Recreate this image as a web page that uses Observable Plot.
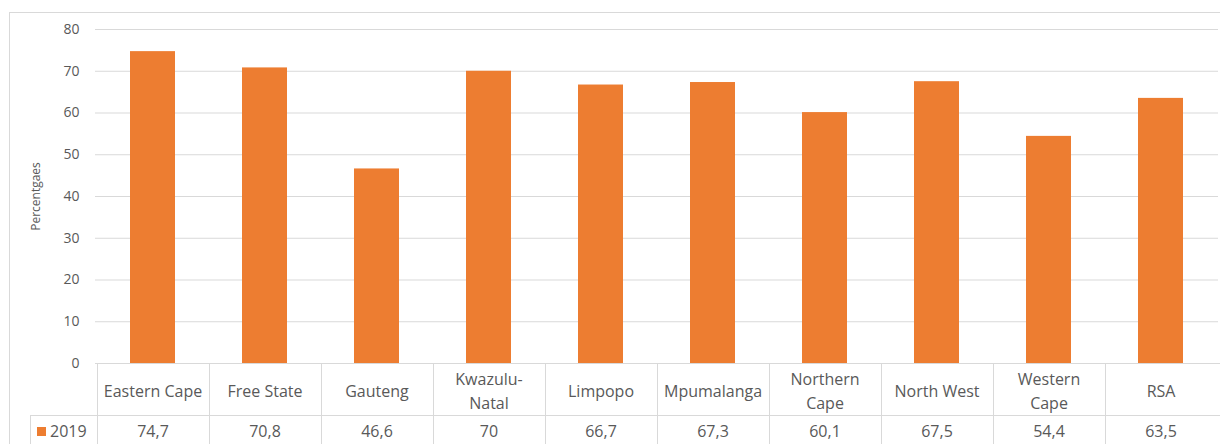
<!DOCTYPE html>
<html>
<head>
<meta charset="utf-8">
<script src="https://cdn.jsdelivr.net/npm/d3@7"></script>
<script src="https://cdn.jsdelivr.net/npm/@observablehq/plot@0.6"></script>
<style>
  html, body { margin: 0; padding: 0; background: #fff; }
  #chart { width: 1220px; height: 444px; overflow: hidden; }
  #chart svg { display: block; }
</style>
</head>
<body>
<div id="chart"></div>
<script>
// Province labels (line breaks as they wrap in the data table)
const provinces = ["Eastern Cape", "Free State", "Gauteng", "Kwazulu-\nNatal", "Limpopo",
  "Mpumalanga", "Northern\nCape", "North West", "Western\nCape", "RSA"];
// 2019 percentages per province
const values2019 = [74.7, 70.8, 46.6, 70, 66.7, 67.3, 60.1, 67.5, 54.4, 63.5];
const seriesName = "2019";
const yTicks = [0, 10, 20, 30, 40, 50, 60, 70, 80];

const data = provinces.map((p, i) => ({province: p, value: values2019[i]}));
const fmt = v => String(v).replace(".", ",");

const orange = "#ED7D31";
const textGray = "#595959";
const lineGray = "#d9d9d9";
const font = "Open Sans, sans-serif";

const plot = Plot.plot({
  width: 1220,
  height: 444,
  marginTop: 29,
  marginBottom: 81,
  marginLeft: 95,
  marginRight: 2,
  style: {fontFamily: font, color: textGray, background: "transparent"},
  x: {domain: provinces, paddingInner: 0.6, paddingOuter: 0.3, axis: null},
  y: {domain: [0, 80], ticks: yTicks, label: null},
  marks: [
    Plot.gridY(yTicks, {stroke: lineGray, strokeOpacity: 1, strokeWidth: 1}),
    Plot.axisY(yTicks, {tickSize: 0, tickPadding: 16, fontSize: 14, fill: textGray,
      label: "Percentgaes", labelAnchor: "center", labelArrow: "none", labelOffset: 64}),
    Plot.barY(data, {x: "province", y: "value", fill: orange}),
    // data table: category row
    Plot.text(data, {x: "province", frameAnchor: "bottom", dy: 26, text: "province",
      fontSize: 16, fill: textGray, lineHeight: 1.45, lineAnchor: "middle"}),
    // data table: values row
    Plot.text(data, {x: "province", frameAnchor: "bottom", dy: 68, text: d => fmt(d.value),
      fontSize: 16, fill: textGray, lineAnchor: "middle"})
  ]
});

// axis title font size
d3.select(plot).selectAll("[aria-label='y-axis label'] text").attr("font-size", 12);

const svg = d3.select(plot);
const xs = plot.scale("x");
const ys = plot.scale("y");
const y0 = ys.apply(0);
const step = xs.step;
const left = xs.range[0];
const rowY = y0 + 52;

// outer chart border
svg.insert("rect", ":first-child")
  .attr("x", 9.5).attr("y", 12.5).attr("width", 1300).attr("height", 600)
  .attr("fill", "none").attr("stroke", lineGray);

const table = svg.append("g").attr("stroke", lineGray).attr("fill", "none");
table.append("line").attr("x1", left).attr("x2", 1220).attr("y1", y0 + 0.5).attr("y2", y0 + 0.5);
table.append("line").attr("x1", 30).attr("x2", 1220).attr("y1", rowY + 0.5).attr("y2", rowY + 0.5);
table.append("line").attr("x1", 30.5).attr("x2", 30.5).attr("y1", rowY).attr("y2", 444);
provinces.forEach(p => {
  const xb = Math.round(xs.apply(p) + xs.bandwidth / 2 - step / 2) + 0.5;
  table.append("line").attr("x1", xb).attr("x2", xb).attr("y1", y0).attr("y2", 444);
});

// legend key inside the table row
svg.append("rect").attr("x", 37).attr("y", y0 + 64).attr("width", 9).attr("height", 9).attr("fill", orange);
svg.append("text").attr("x", 50).attr("y", y0 + 68).attr("dy", "0.35em").attr("text-anchor", "start")
  .attr("font-size", 16).attr("fill", textGray).attr("font-family", font).text(seriesName);

document.getElementById("chart").append(plot);
</script>
</body>
</html>
